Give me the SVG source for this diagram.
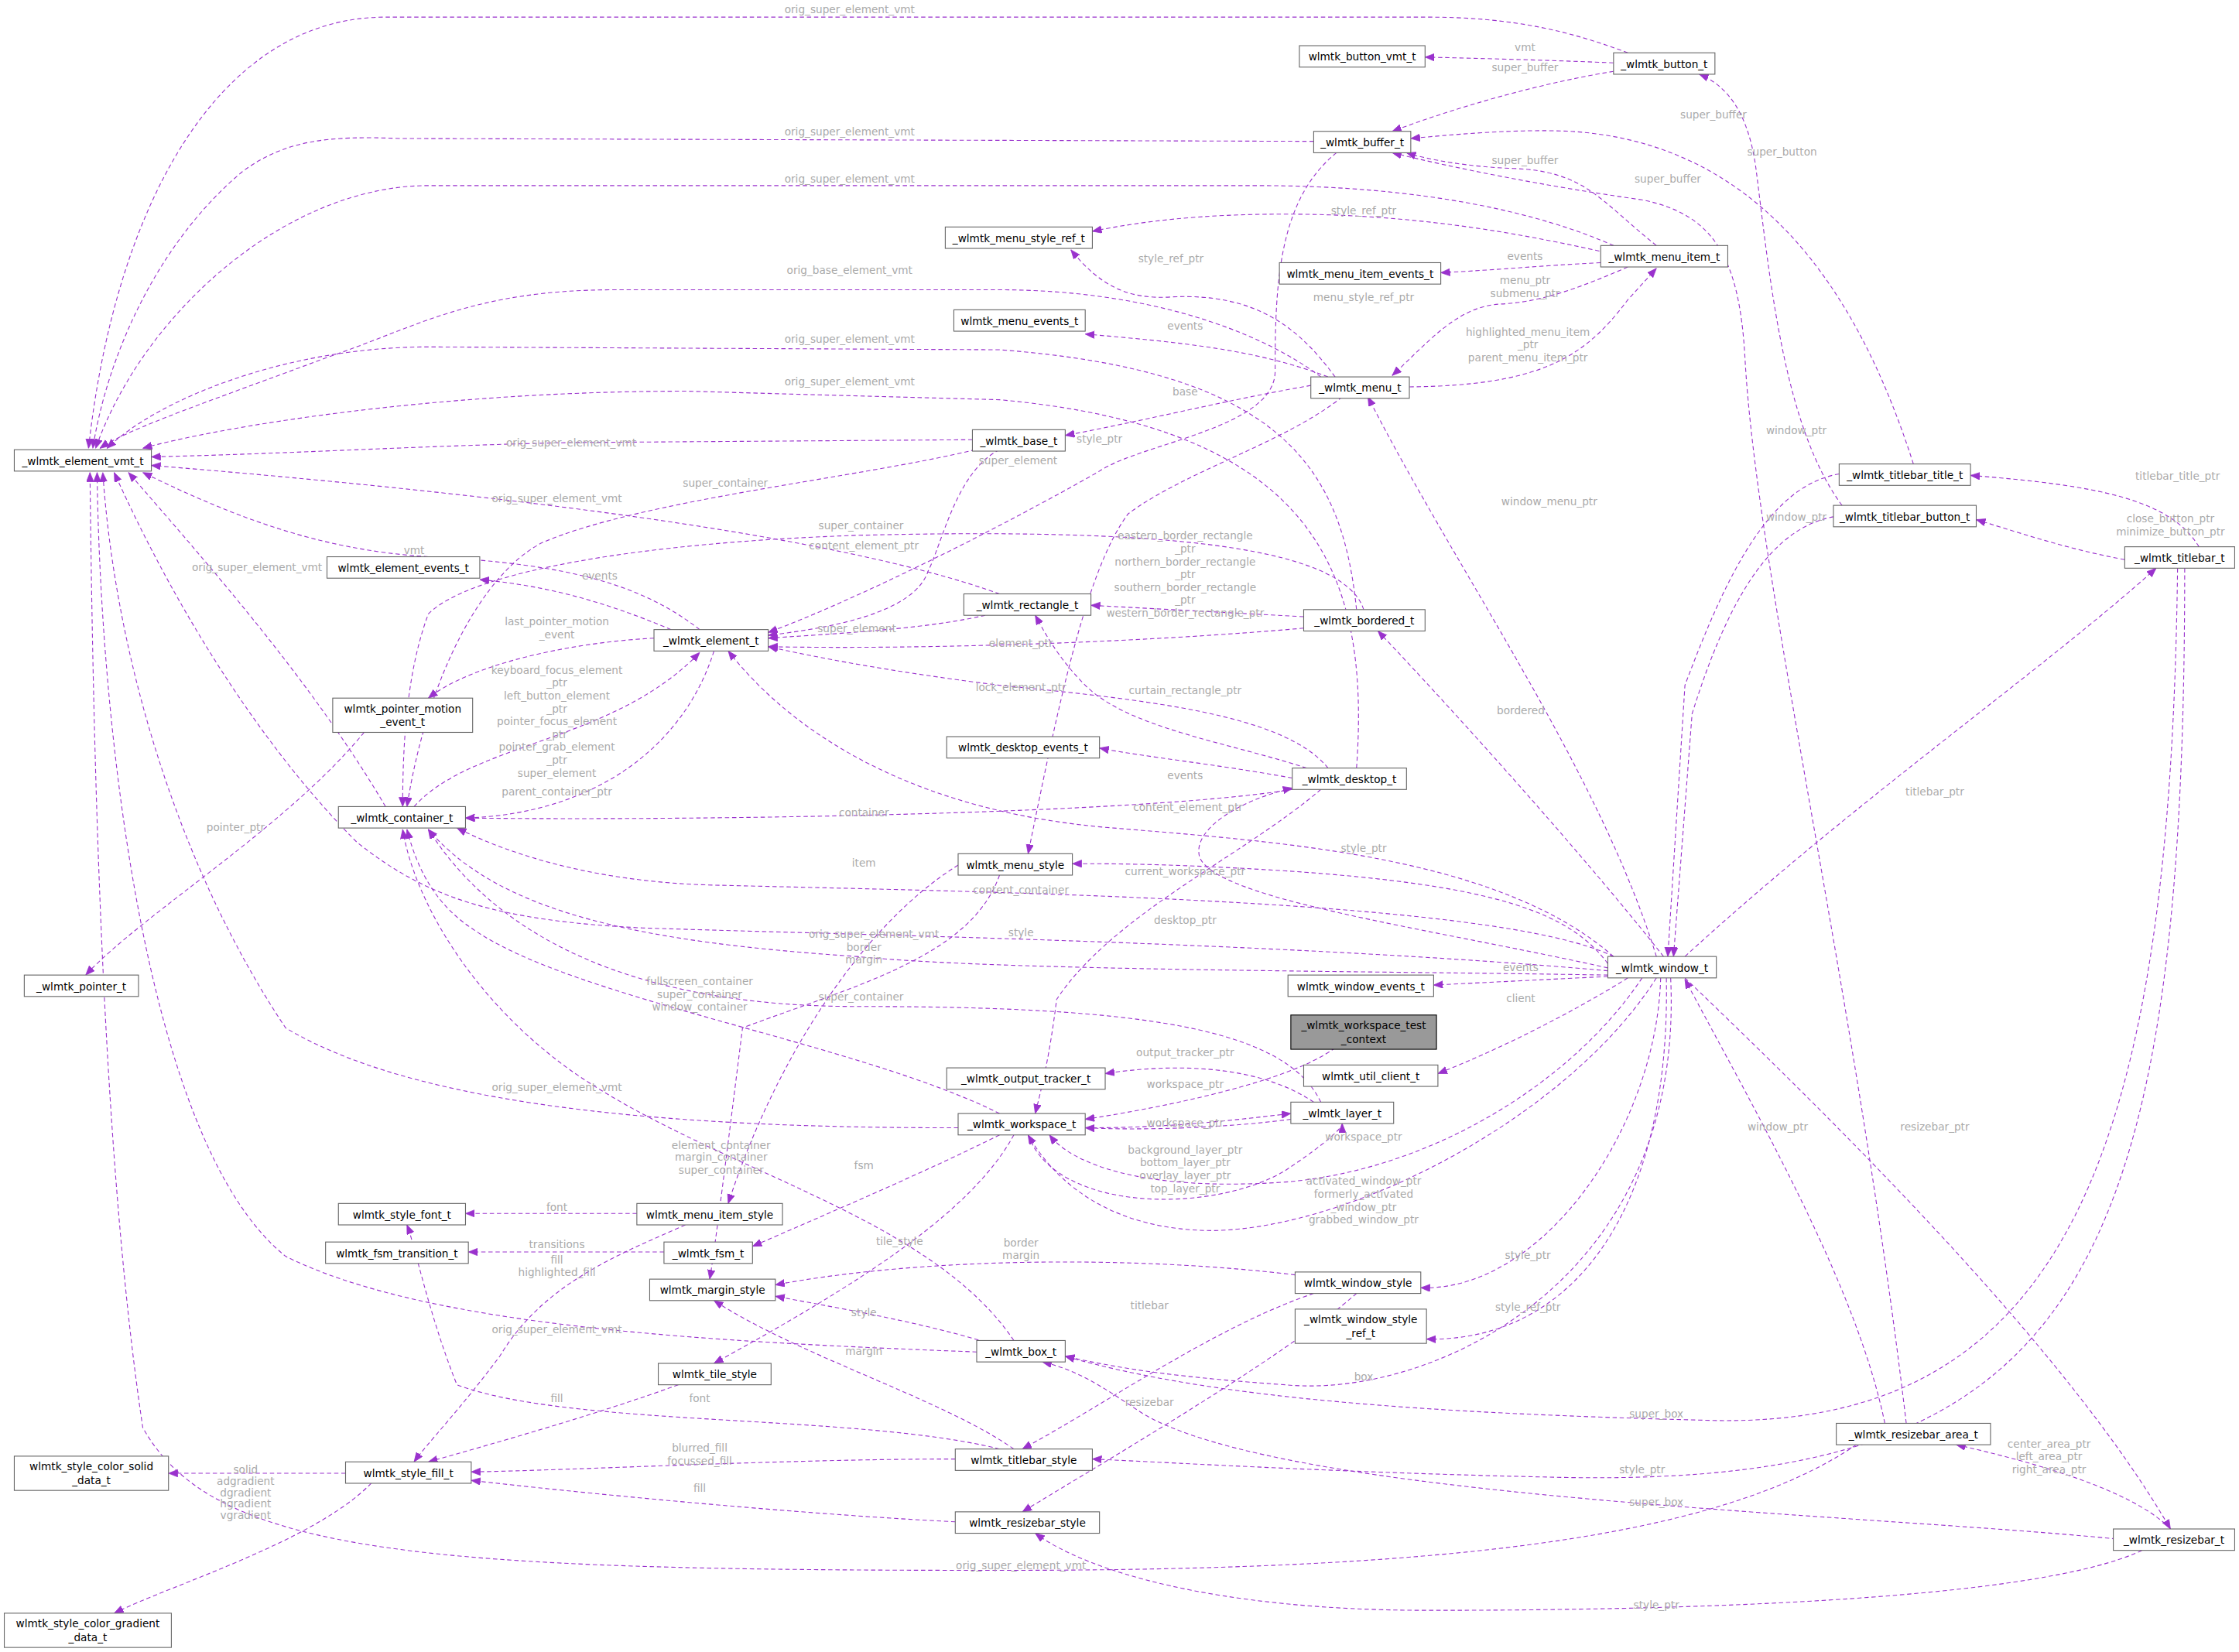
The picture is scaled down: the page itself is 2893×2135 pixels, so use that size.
<svg xmlns="http://www.w3.org/2000/svg" width="2893" height="2135" viewBox="0 0 2893 2135">
<style>
.n rect{fill:#fff;stroke:#666;stroke-width:0.6}
.n text,.l text{font-family:"DejaVu Sans","Liberation Sans",sans-serif;font-size:7.4px;text-anchor:middle}
.n text{fill:#000}
.l text{fill:#aaa}
.e path{fill:none;stroke:#9a32cd;stroke-width:0.6;stroke-dasharray:3,2;marker-end:url(#a)}
</style>
<defs><marker id="a" markerUnits="userSpaceOnUse" markerWidth="7" markerHeight="6" refX="6.5" refY="2.6" orient="auto"><path d="M0,0 L6.5,2.6 L0,5.2 z" fill="#9a32cd" stroke="#9a32cd" stroke-width="0.4"/></marker></defs>
<rect width="2893" height="2135" fill="#fff"/>
<g transform="scale(1.845)">
<g id="connectors" class="e">
<path d="M1140,37 C1100,22 1060,12 1000,12 L270,12 C150,12 80,150 62,314"/>
<path d="M1130,44 C1080,42 1040,41 998,40"/>
<path d="M1130,50 C1080,58 1020,75 975,92"/>
<path d="M920,99 L280,97 C230,95 200,98 170,120 C110,170 75,250 65,314"/>
<path d="M1130,172 C1080,150 1000,130 880,130 L300,130 C200,130 100,220 67,314"/>
<path d="M1160,172 C1120,140 1110,120 1060,118 C1030,117 1000,112 985,107"/>
<path d="M1125,177 C1050,160 980,150 900,150 C840,150 800,155 765,162"/>
<path d="M1121,184 C1080,186 1050,189 1009,191"/>
<path d="M1140,187 C1110,200 1080,212 1050,213 C1020,215 1000,240 975,263"/>
<path d="M987,271 C1080,270 1110,250 1140,210 L1160,188"/>
<path d="M935,264 C910,230 880,205 820,208 C790,210 770,200 750,175"/>
<path d="M925,264 C880,230 800,203 700,203 L430,203 C330,203 290,230 230,250 C150,280 90,300 70,314"/>
<path d="M930,264 C880,245 830,240 760,234"/>
<path d="M918,270 C860,280 800,295 746,305"/>
<path d="M940,278 C900,310 830,330 790,360 C760,400 740,500 720,598"/>
<path d="M950,427 C940,330 900,260 700,245 L300,243 C200,243 110,280 75,314"/>
<path d="M950,538 C960,400 920,300 700,280 L480,274 C300,274 150,300 100,314"/>
<path d="M681,308 L400,310 C300,312 200,318 106,320"/>
<path d="M683,315 C600,335 450,350 380,380 C340,400 300,470 285,565"/>
<path d="M700,315 C670,330 660,380 650,400 C640,430 580,440 538,445"/>
<path d="M936,107 C895,140 893,200 893,260 C893,300 800,310 770,330 C700,370 600,420 538,443"/>
<path d="M700,416 C600,380 400,350 106,326"/>
<path d="M690,431 C650,440 600,443 538,447"/>
<path d="M913,432 L764,424"/>
<path d="M913,440 C800,450 650,455 538,453"/>
<path d="M955,427 C940,380 800,370 600,375 C450,380 330,400 300,430 C285,470 282,520 282,565"/>
<path d="M490,441 C450,410 400,395 300,390 C220,385 160,360 100,331"/>
<path d="M470,441 C420,420 380,410 336,406"/>
<path d="M458,447 C400,450 330,465 300,489"/>
<path d="M500,456 C480,520 420,570 326,573"/>
<path d="M290,565 C330,520 430,520 490,457"/>
<path d="M270,565 C220,480 150,400 90,331"/>
<path d="M255,513 C200,580 100,640 60,683"/>
<path d="M905,545 C850,535 800,530 770,524"/>
<path d="M930,538 C900,500 800,490 700,480 C620,470 570,460 538,453"/>
<path d="M915,538 C860,520 790,510 760,480 C740,460 730,440 725,431"/>
<path d="M905,553 C800,570 500,575 326,573"/>
<path d="M925,553 C870,600 780,640 740,700 C735,740 730,760 725,780"/>
<path d="M1130,670 C1050,600 900,590 780,580 C650,570 560,520 510,456"/>
<path d="M1126,675 C1100,640 1050,620 900,610 C820,605 780,605 751,605"/>
<path d="M1130,670 C1050,630 700,625 500,620 C420,618 360,600 320,580"/>
<path d="M1126,680 C900,660 600,655 450,650 C350,645 300,630 250,590 C180,520 120,420 80,331"/>
<path d="M1126,683 C950,680 700,680 600,670 C450,660 350,640 300,581"/>
<path d="M1126,684 L1004,690"/>
<path d="M1140,685 C1100,710 1050,735 1007,752"/>
<path d="M1126,678 C1000,650 850,630 840,600 C835,580 870,560 905,552"/>
<path d="M1160,670 C1120,540 1020,400 958,278"/>
<path d="M1165,670 C1110,600 1020,500 965,442"/>
<path d="M1180,670 C1300,560 1430,470 1510,398"/>
<path d="M1180,685 C1300,800 1450,950 1520,1071"/>
<path d="M1160,685 C1100,780 950,860 850,862 C780,862 740,830 720,795"/>
<path d="M1150,685 C1100,760 1000,820 900,828 C800,835 750,815 735,795"/>
<path d="M1163,685 C1160,790 1080,905 995,902"/>
<path d="M1167,685 C1170,850 1100,940 999,938"/>
<path d="M1170,685 C1180,900 1000,980 900,970 C830,965 790,960 746,950"/>
<path d="M1288,332 C1240,340 1210,400 1180,480 L1168,670"/>
<path d="M1340,325 C1300,200 1230,100 1100,92 C1060,90 1010,95 988,97"/>
<path d="M1284,362 C1240,370 1210,420 1185,500 L1172,670"/>
<path d="M1290,354 C1250,300 1240,200 1230,120 C1225,80 1210,60 1190,52"/>
<path d="M1540,383 C1520,350 1470,340 1380,333"/>
<path d="M1488,392 C1450,385 1420,375 1384,364"/>
<path d="M1525,398 C1520,800 1450,1000 1200,995 C1000,990 850,980 746,950"/>
<path d="M1530,398 C1530,900 1450,1040 1100,1035 C950,1032 830,1025 765,1022"/>
<path d="M1320,997 C1300,900 1230,780 1180,686"/>
<path d="M1335,997 C1300,700 1230,400 1222,250 C1218,180 1200,150 1150,140 C1080,130 1020,118 975,107"/>
<path d="M1300,1012 C1200,1080 1000,1100 700,1100 C300,1100 150,1090 100,1000 C70,800 65,500 63,331"/>
<path d="M1520,1071 C1500,1050 1450,1030 1370,1012"/>
<path d="M1482,1078 C1300,1060 900,1050 800,990 C770,970 755,960 730,954"/>
<path d="M1500,1086 C1450,1110 1300,1128 1000,1128 C850,1128 760,1100 725,1074"/>
<path d="M700,780 C600,730 400,700 330,650 C300,630 290,600 285,581"/>
<path d="M671,790 C500,790 300,780 200,720 C120,600 80,450 72,331"/>
<path d="M700,795 C650,820 580,850 527,873"/>
<path d="M710,795 C680,850 600,900 500,955"/>
<path d="M760,790 C820,790 860,785 904,780"/>
<path d="M904,784 C860,790 800,792 760,790"/>
<path d="M925,772 C900,720 800,705 600,705 C450,705 350,660 300,581"/>
<path d="M920,772 C880,745 820,745 774,752"/>
<path d="M935,734 C900,760 800,778 760,784"/>
<path d="M720,795 C740,850 850,850 900,820 C930,800 940,790 940,787"/>
<path d="M710,939 C650,850 500,820 400,750 C330,700 290,630 282,581"/>
<path d="M684,947 C500,940 300,930 200,880 C100,800 70,500 68,331"/>
<path d="M690,940 C640,925 580,915 543,908"/>
<path d="M446,850 L326,850"/>
<path d="M480,858 C430,880 380,900 350,950 C320,990 300,1010 290,1024"/>
<path d="M465,877 L328,877"/>
<path d="M671,606 C600,650 540,750 510,843"/>
<path d="M700,613 C680,670 600,690 520,720 C510,800 500,880 497,896"/>
<path d="M907,893 C800,880 650,880 543,900"/>
<path d="M920,906 C850,930 780,980 716,1015"/>
<path d="M950,906 C900,950 780,1020 716,1059"/>
<path d="M475,970 C420,990 350,1010 300,1024"/>
<path d="M710,1015 C660,980 560,950 500,911"/>
<path d="M669,1022 C550,1022 400,1030 330,1031"/>
<path d="M700,1015 C600,990 400,1000 320,970 C300,920 290,870 285,858"/>
<path d="M669,1066 C550,1060 400,1045 330,1037"/>
<path d="M242,1032 L118,1032"/>
<path d="M260,1039 C220,1080 120,1110 80,1130"/>
</g>
<g id="labels" class="l">
<text x="595" y="9">orig_super_element_vmt</text>
<text x="1068" y="36">vmt</text>
<text x="1068" y="50">super_buffer</text>
<text x="595" y="95">orig_super_element_vmt</text>
<text x="1200" y="83">super_buffer</text>
<text x="1248" y="109">super_button</text>
<text x="1068" y="115">super_buffer</text>
<text x="1168" y="128">super_buffer</text>
<text x="595" y="128">orig_super_element_vmt</text>
<text x="955" y="150">style_ref_ptr</text>
<text x="1068" y="182">events</text>
<text x="1068" y="199">menu_ptr</text>
<text x="1068" y="208">submenu_ptr</text>
<text x="820" y="184">style_ref_ptr</text>
<text x="955" y="211">menu_style_ref_ptr</text>
<text x="595" y="192">orig_base_element_vmt</text>
<text x="830" y="231">events</text>
<text x="1070" y="235">highlighted_menu_item</text>
<text x="1070" y="244">_ptr</text>
<text x="1070" y="253">parent_menu_item_ptr</text>
<text x="595" y="240">orig_super_element_vmt</text>
<text x="595" y="270">orig_super_element_vmt</text>
<text x="830" y="277">base</text>
<text x="400" y="313">orig_super_element_vmt</text>
<text x="770" y="310">style_ptr</text>
<text x="713" y="325">super_element</text>
<text x="508" y="341">super_container</text>
<text x="390" y="352">orig_super_element_vmt</text>
<text x="603" y="371">super_container</text>
<text x="605" y="385">content_element_ptr</text>
<text x="290" y="388">vmt</text>
<text x="830" y="378">eastern_border_rectangle</text>
<text x="830" y="387">_ptr</text>
<text x="830" y="396">northern_border_rectangle</text>
<text x="830" y="405">_ptr</text>
<text x="830" y="414">southern_border_rectangle</text>
<text x="830" y="423">_ptr</text>
<text x="830" y="432">western_border_rectangle_ptr</text>
<text x="180" y="400">orig_super_element_vmt</text>
<text x="420" y="406">events</text>
<text x="600" y="443">super_element</text>
<text x="390" y="438">last_pointer_motion</text>
<text x="390" y="447">_event</text>
<text x="715" y="453">element_ptr</text>
<text x="390" y="472">keyboard_focus_element</text>
<text x="390" y="481">_ptr</text>
<text x="390" y="490">left_button_element</text>
<text x="390" y="499">_ptr</text>
<text x="390" y="508">pointer_focus_element</text>
<text x="390" y="517">_ptr</text>
<text x="390" y="526">pointer_grab_element</text>
<text x="390" y="535">_ptr</text>
<text x="390" y="544">super_element</text>
<text x="390" y="557">parent_container_ptr</text>
<text x="715" y="484">lock_element_ptr</text>
<text x="830" y="486">curtain_rectangle_ptr</text>
<text x="1065" y="500">bordered</text>
<text x="830" y="546">events</text>
<text x="832" y="568">content_element_ptr</text>
<text x="605" y="572">container</text>
<text x="165" y="582">pointer_ptr</text>
<text x="955" y="597">style_ptr</text>
<text x="605" y="607">item</text>
<text x="830" y="613">current_workspace_ptr</text>
<text x="715" y="626">content_container</text>
<text x="830" y="647">desktop_ptr</text>
<text x="612" y="657">orig_super_element_vmt</text>
<text x="715" y="656">style</text>
<text x="605" y="666">border</text>
<text x="605" y="675">margin</text>
<text x="1065" y="680">events</text>
<text x="490" y="690">fullscreen_container</text>
<text x="490" y="699">super_container</text>
<text x="490" y="708">window_container</text>
<text x="603" y="701">super_container</text>
<text x="1065" y="702">client</text>
<text x="830" y="740">output_tracker_ptr</text>
<text x="830" y="762">workspace_ptr</text>
<text x="390" y="764">orig_super_element_vmt</text>
<text x="830" y="789">workspace_ptr</text>
<text x="1245" y="792">window_ptr</text>
<text x="1355" y="792">resizebar_ptr</text>
<text x="955" y="799">workspace_ptr</text>
<text x="505" y="805">element_container</text>
<text x="505" y="813">margin_container</text>
<text x="505" y="822">super_container</text>
<text x="830" y="808">background_layer_ptr</text>
<text x="830" y="817">bottom_layer_ptr</text>
<text x="830" y="826">overlay_layer_ptr</text>
<text x="830" y="835">top_layer_ptr</text>
<text x="605" y="819">fsm</text>
<text x="955" y="830">activated_window_ptr</text>
<text x="955" y="839">formerly_activated</text>
<text x="955" y="848">_window_ptr</text>
<text x="955" y="857">grabbed_window_ptr</text>
<text x="390" y="848">font</text>
<text x="630" y="872">tile_style</text>
<text x="390" y="874">transitions</text>
<text x="715" y="873">border</text>
<text x="715" y="882">margin</text>
<text x="1070" y="882">style_ptr</text>
<text x="390" y="885">fill</text>
<text x="390" y="894">highlighted_fill</text>
<text x="805" y="917">titlebar</text>
<text x="1070" y="918">style_ref_ptr</text>
<text x="605" y="922">style</text>
<text x="390" y="934">orig_super_element_vmt</text>
<text x="605" y="949">margin</text>
<text x="955" y="967">box</text>
<text x="490" y="982">font</text>
<text x="390" y="982">fill</text>
<text x="805" y="985">resizebar</text>
<text x="1160" y="993">super_box</text>
<text x="490" y="1017">blurred_fill</text>
<text x="490" y="1026">focussed_fill</text>
<text x="1435" y="1014">center_area_ptr</text>
<text x="1435" y="1023">left_area_ptr</text>
<text x="1435" y="1032">right_area_ptr</text>
<text x="172" y="1032">solid</text>
<text x="1150" y="1032">style_ptr</text>
<text x="172" y="1040">adgradient</text>
<text x="172" y="1048">dgradient</text>
<text x="172" y="1056">hgradient</text>
<text x="172" y="1064">vgradient</text>
<text x="490" y="1045">fill</text>
<text x="1160" y="1055">super_box</text>
<text x="715" y="1099">orig_super_element_vmt</text>
<text x="1160" y="1127">style_ptr</text>
<text x="1258" y="304">window_ptr</text>
<text x="1258" y="365">window_ptr</text>
<text x="1525" y="336">titlebar_title_ptr</text>
<text x="1520" y="366">close_button_ptr</text>
<text x="1520" y="375">minimize_button_ptr</text>
<text x="1355" y="557">titlebar_ptr</text>
<text x="1085" y="354">window_menu_ptr</text>
</g>
<g id="n_element_vmt" class="n"><rect x="10" y="315" width="96" height="15"/><text x="58" y="325.5">_wlmtk_element_vmt_t</text></g>
<g id="n_button_vmt" class="n"><rect x="910" y="32" width="88" height="15"/><text x="954" y="42.5">wlmtk_button_vmt_t</text></g>
<g id="n_button" class="n"><rect x="1130" y="37" width="71" height="15"/><text x="1165.5" y="47.5">_wlmtk_button_t</text></g>
<g id="n_buffer" class="n"><rect x="920" y="92" width="68" height="15"/><text x="954" y="102.5">_wlmtk_buffer_t</text></g>
<g id="n_menu_style_ref" class="n"><rect x="662" y="159" width="103" height="15"/><text x="713.5" y="169.5">_wlmtk_menu_style_ref_t</text></g>
<g id="n_menu_item_events" class="n"><rect x="896" y="184" width="113" height="15"/><text x="952.5" y="194.5">wlmtk_menu_item_events_t</text></g>
<g id="n_menu_item" class="n"><rect x="1121" y="172" width="89" height="15"/><text x="1165.5" y="182.5">_wlmtk_menu_item_t</text></g>
<g id="n_menu_events" class="n"><rect x="668" y="217" width="92" height="15"/><text x="714" y="227.5">wlmtk_menu_events_t</text></g>
<g id="n_menu" class="n"><rect x="918" y="264" width="69" height="15"/><text x="952.5" y="274.5">_wlmtk_menu_t</text></g>
<g id="n_base" class="n"><rect x="681" y="301" width="65" height="15"/><text x="713.5" y="311.5">_wlmtk_base_t</text></g>
<g id="n_element_events" class="n"><rect x="229" y="390" width="107" height="15"/><text x="282.5" y="400.5">wlmtk_element_events_t</text></g>
<g id="n_rectangle" class="n"><rect x="675" y="416" width="89" height="15"/><text x="719.5" y="426.5">_wlmtk_rectangle_t</text></g>
<g id="n_bordered" class="n"><rect x="913" y="427" width="85" height="15"/><text x="955.5" y="437.5">_wlmtk_bordered_t</text></g>
<g id="n_element" class="n"><rect x="458" y="441" width="80" height="15"/><text x="498" y="451.5">_wlmtk_element_t</text></g>
<g id="n_pointer_motion" class="n"><rect x="233" y="489" width="98" height="24"/><text x="282" y="499">wlmtk_pointer_motion</text><text x="282" y="508.5">_event_t</text></g>
<g id="n_desktop_events" class="n"><rect x="663" y="516" width="107" height="15"/><text x="716.5" y="526.5">wlmtk_desktop_events_t</text></g>
<g id="n_desktop" class="n"><rect x="905" y="538" width="80" height="15"/><text x="945" y="548.5">_wlmtk_desktop_t</text></g>
<g id="n_container" class="n"><rect x="237" y="565" width="89" height="15"/><text x="281.5" y="575.5">_wlmtk_container_t</text></g>
<g id="n_menu_style" class="n"><rect x="671" y="598" width="80" height="15"/><text x="711" y="608.5">wlmtk_menu_style</text></g>
<g id="n_pointer" class="n"><rect x="17" y="683" width="80" height="15"/><text x="57" y="693.5">_wlmtk_pointer_t</text></g>
<g id="n_window" class="n"><rect x="1126" y="670" width="76" height="15"/><text x="1164" y="680.5">_wlmtk_window_t</text></g>
<g id="n_window_events" class="n"><rect x="902" y="683" width="102" height="15"/><text x="953" y="693.5">wlmtk_window_events_t</text></g>
<g id="n_test_context" class="n"><rect x="904" y="711" width="102" height="24" style="fill:#999;stroke:#000"/><text x="955" y="721">_wlmtk_workspace_test</text><text x="955" y="730.5">_context</text></g>
<g id="n_util_client" class="n"><rect x="913" y="746" width="94" height="15"/><text x="960" y="756.5">wlmtk_util_client_t</text></g>
<g id="n_output_tracker" class="n"><rect x="663" y="748" width="111" height="15"/><text x="718.5" y="758.5">_wlmtk_output_tracker_t</text></g>
<g id="n_layer" class="n"><rect x="904" y="772" width="72" height="15"/><text x="940" y="782.5">_wlmtk_layer_t</text></g>
<g id="n_workspace" class="n"><rect x="671" y="780" width="89" height="15"/><text x="715.5" y="790.5">_wlmtk_workspace_t</text></g>
<g id="n_style_font" class="n"><rect x="237" y="843" width="89" height="15"/><text x="281.5" y="853.5">wlmtk_style_font_t</text></g>
<g id="n_menu_item_style" class="n"><rect x="446" y="843" width="102" height="15"/><text x="497" y="853.5">wlmtk_menu_item_style</text></g>
<g id="n_fsm_transition" class="n"><rect x="228" y="870" width="100" height="15"/><text x="278" y="880.5">wlmtk_fsm_transition_t</text></g>
<g id="n_fsm" class="n"><rect x="465" y="870" width="62" height="15"/><text x="496" y="880.5">_wlmtk_fsm_t</text></g>
<g id="n_margin_style" class="n"><rect x="455" y="896" width="88" height="15"/><text x="499" y="906.5">wlmtk_margin_style</text></g>
<g id="n_window_style" class="n"><rect x="907" y="891" width="88" height="15"/><text x="951" y="901.5">wlmtk_window_style</text></g>
<g id="n_window_style_ref" class="n"><rect x="907" y="917" width="92" height="24"/><text x="953" y="927">_wlmtk_window_style</text><text x="953" y="936.5">_ref_t</text></g>
<g id="n_box" class="n"><rect x="684" y="939" width="62" height="15"/><text x="715" y="949.5">_wlmtk_box_t</text></g>
<g id="n_tile_style" class="n"><rect x="461" y="955" width="79" height="15"/><text x="500.5" y="965.5">wlmtk_tile_style</text></g>
<g id="n_titlebar_style" class="n"><rect x="669" y="1015" width="96" height="15"/><text x="717" y="1025.5">wlmtk_titlebar_style</text></g>
<g id="n_color_solid" class="n"><rect x="10" y="1020" width="108" height="24"/><text x="64" y="1030">wlmtk_style_color_solid</text><text x="64" y="1039.5">_data_t</text></g>
<g id="n_style_fill" class="n"><rect x="242" y="1024" width="88" height="15"/><text x="286" y="1034.5">wlmtk_style_fill_t</text></g>
<g id="n_resizebar_area" class="n"><rect x="1286" y="997" width="108" height="15"/><text x="1340" y="1007.5">_wlmtk_resizebar_area_t</text></g>
<g id="n_resizebar_style" class="n"><rect x="669" y="1059" width="101" height="15"/><text x="719.5" y="1069.5">wlmtk_resizebar_style</text></g>
<g id="n_resizebar" class="n"><rect x="1480" y="1071" width="85" height="15"/><text x="1522.5" y="1081.5">_wlmtk_resizebar_t</text></g>
<g id="n_color_gradient" class="n"><rect x="3" y="1130" width="117" height="24"/><text x="61.5" y="1140">wlmtk_style_color_gradient</text><text x="61.5" y="1149.5">_data_t</text></g>
<g id="n_titlebar_title" class="n"><rect x="1288" y="325" width="92" height="15"/><text x="1334" y="335.5">_wlmtk_titlebar_title_t</text></g>
<g id="n_titlebar_button" class="n"><rect x="1284" y="354" width="100" height="15"/><text x="1334" y="364.5">_wlmtk_titlebar_button_t</text></g>
<g id="n_titlebar" class="n"><rect x="1488" y="383" width="77" height="15"/><text x="1526.5" y="393.5">_wlmtk_titlebar_t</text></g>
</g>
</svg>
